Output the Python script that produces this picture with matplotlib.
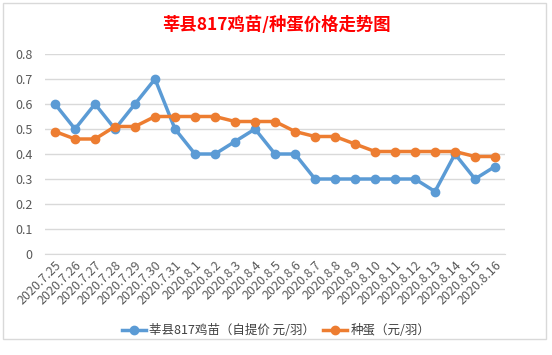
import matplotlib
matplotlib.use("Agg")
import matplotlib.pyplot as plt

plt.rcParams['font.family'] = ['Noto Sans CJK SC', 'DejaVu Sans']

dates = ["2020.7.25", "2020.7.26", "2020.7.27", "2020.7.28", "2020.7.29", "2020.7.30",
         "2020.7.31", "2020.8.1", "2020.8.2", "2020.8.3", "2020.8.4", "2020.8.5",
         "2020.8.6", "2020.8.7", "2020.8.8", "2020.8.9", "2020.8.10", "2020.8.11",
         "2020.8.12", "2020.8.13", "2020.8.14", "2020.8.15", "2020.8.16"]
chick = [0.6, 0.5, 0.6, 0.5, 0.6, 0.7, 0.5, 0.4, 0.4, 0.45, 0.5, 0.4,
         0.4, 0.3, 0.3, 0.3, 0.3, 0.3, 0.3, 0.25, 0.4, 0.3, 0.35]
egg = [0.49, 0.46, 0.46, 0.51, 0.51, 0.55, 0.55, 0.55, 0.55, 0.53, 0.53, 0.53,
       0.49, 0.47, 0.47, 0.44, 0.41, 0.41, 0.41, 0.41, 0.41, 0.39, 0.39]
yticks = [0, 0.1, 0.2, 0.3, 0.4, 0.5, 0.6, 0.7, 0.8]

fig = plt.figure(figsize=(5.52, 3.55), dpi=100)
ax = fig.add_axes([45/552, 1 - 254/355, 460/552, 200/355])

x = range(len(dates))
ax.plot(x, chick, color='#5B9BD5', lw=2.5, marker='o', ms=6,
        label='莘县817鸡苗（自提价 元/羽）')
ax.plot(x, egg, color='#ED7D31', lw=2.5, marker='o', ms=6,
        label='种蛋（元/羽）')

ax.set_xlim(-0.5, len(dates) - 0.5)
ax.set_ylim(0, 0.8)
ax.set_yticks(yticks)
ax.set_yticklabels([f"{v:g}" for v in yticks])
ax.set_xticks(list(x))
ax.set_xticklabels(dates, rotation=45, ha='right', rotation_mode='anchor')
ax.tick_params(axis='both', length=0, colors='#595959', labelsize=9)
ax.tick_params(axis='y', pad=9)
ax.grid(axis='y', color='#D9D9D9', lw=1)
ax.set_axisbelow(True)
for s in ['top', 'right', 'left']:
    ax.spines[s].set_visible(False)
ax.spines['bottom'].set_color('#D9D9D9')

fig.text(0.5, 1 - 25/355, '莘县817鸡苗/种蛋价格走势图', color='#FF0000',
         fontsize=12.5, fontweight='bold', ha='center', va='center')

fig.legend(loc='center', bbox_to_anchor=(0.5, 1 - 331/355), ncol=2, frameon=False,
           fontsize=9, labelcolor='#404040', handlelength=1.9, columnspacing=0.6,
           handletextpad=0.3)

fig.add_artist(plt.Rectangle((3/552, 1 - 339/355), 543/552, 336/355,
                             transform=fig.transFigure, fill=False,
                             edgecolor='#D9D9D9', lw=1))

fig.savefig('out.png', dpi=100)
